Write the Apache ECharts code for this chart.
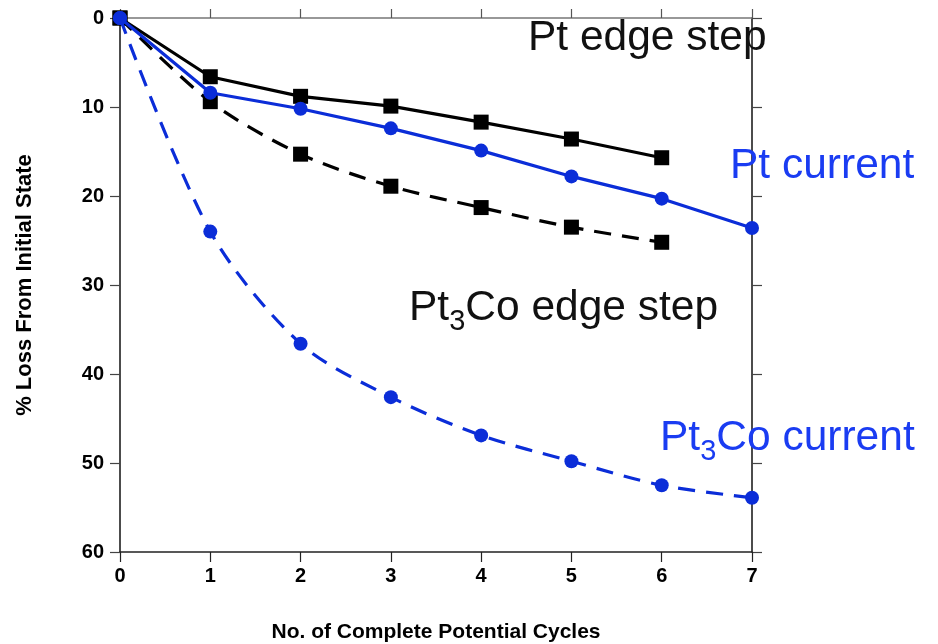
<!DOCTYPE html>
<html>
<head>
<meta charset="utf-8">
<script src="https://cdn.jsdelivr.net/npm/echarts@6/dist/echarts.min.js"></script>
<style>
  html, body { margin: 0; padding: 0; background: #ffffff; }
  #chart { width: 938px; height: 644px; }
</style>
</head>
<body>
<div id="chart"></div>
<script>
// Number of complete potential cycles
const cycles = [0, 1, 2, 3, 4, 5, 6, 7];
// % loss from initial state for each measurement
const ptEdgeStep    = [0, 6.6, 8.8, 9.9, 11.7, 13.6, 15.7];
const ptCurrent     = [0, 8.4, 10.2, 12.4, 14.9, 17.8, 20.3, 23.6];
const pt3CoEdgeStep = [0, 9.4, 15.3, 18.9, 21.3, 23.5, 25.2];
const pt3CoCurrent  = [0, 24.0, 36.6, 42.6, 46.9, 49.8, 52.5, 53.9];
// Axis ranges
const xRange = { min: 0, max: 7, step: 1 };
const yRange = { min: 0, max: 60, step: 10 };

const FONT = '"Liberation Sans", Arial, Helvetica, sans-serif';
const BLACK = '#000000';
const BLUE = '#0b2dd8';
const BLUE_TEXT = '#1a3cf2';

function pairs(values) {
  return values.map((v, i) => [cycles[i], v]);
}

const annotationRich = {
  m: { fontSize: 42.5, lineHeight: 56, verticalAlign: 'middle', fontFamily: FONT },
  s: { fontSize: 29, lineHeight: 28, verticalAlign: 'bottom', fontFamily: FONT }
};
function annotation(text, color, left, top) {
  const rich = {
    m: Object.assign({ color }, annotationRich.m),
    s: Object.assign({ color }, annotationRich.s)
  };
  return {
    text, left, top, padding: 0,
    textStyle: { rich, color, fontFamily: FONT, fontWeight: 'normal' }
  };
}

const chart = echarts.init(document.getElementById('chart'), null, { renderer: 'canvas' });

const tickLabel = { color: BLACK, fontFamily: FONT, fontWeight: 'bold', fontSize: 20 };

chart.setOption({
  animation: false,
  backgroundColor: '#ffffff',
  title: [
    annotation('{m|Pt edge step}', '#111111', 528, 10),
    annotation('{m|Pt current}', BLUE_TEXT, 730, 138),
    annotation('{m|Pt}{s|3}{m|Co edge step}', '#111111', 409, 280),
    annotation('{m|Pt}{s|3}{m|Co current}', BLUE_TEXT, 660, 410)
  ],
  grid: { left: 120, top: 18, right: 186, bottom: 92, containLabel: false, outerBoundsMode: 'none' },
  xAxis: [
    {
      type: 'value', position: 'bottom',
      min: xRange.min, max: xRange.max, interval: xRange.step,
      name: 'No. of Complete Potential Cycles',
      nameLocation: 'middle', nameGap: 70,
      nameTextStyle: { color: BLACK, fontFamily: FONT, fontWeight: 'bold', fontSize: 21 },
      axisLine: { show: true, onZero: false, lineStyle: { color: '#222222', width: 1.5 } },
      axisTick: { show: true, inside: false, length: 10, lineStyle: { color: '#222222', width: 1.2 } },
      axisLabel: Object.assign({ margin: 14 }, tickLabel),
      splitLine: { show: false }
    },
    {
      type: 'value', position: 'top',
      min: xRange.min, max: xRange.max, interval: xRange.step,
      axisLine: { show: true, onZero: false, lineStyle: { color: '#777777', width: 1.5 } },
      axisTick: { show: true, inside: false, length: 9, lineStyle: { color: '#555555', width: 1.2 } },
      axisLabel: { show: false },
      splitLine: { show: false }
    }
  ],
  yAxis: [
    {
      type: 'value', position: 'left', inverse: true,
      min: yRange.min, max: yRange.max, interval: yRange.step,
      name: '% Loss From Initial State',
      nameLocation: 'middle', nameGap: 84, nameRotate: 90,
      nameTextStyle: { color: BLACK, fontFamily: FONT, fontWeight: 'bold', fontSize: 22 },
      axisLine: { show: true, onZero: false, lineStyle: { color: '#111111', width: 1.5 } },
      axisTick: { show: true, inside: false, length: 10, lineStyle: { color: '#444444', width: 1.2 } },
      axisLabel: Object.assign({ margin: 16 }, tickLabel),
      splitLine: { show: false }
    },
    {
      type: 'value', position: 'right', inverse: true,
      min: yRange.min, max: yRange.max, interval: yRange.step,
      axisLine: { show: true, onZero: false, lineStyle: { color: '#111111', width: 1.5 } },
      axisTick: { show: true, inside: false, length: 10, lineStyle: { color: '#444444', width: 1.2 } },
      axisLabel: { show: false },
      splitLine: { show: false }
    }
  ],
  series: [
    {
      name: 'Pt3Co edge step', type: 'line', xAxisIndex: 0, yAxisIndex: 0,
      data: pairs(pt3CoEdgeStep), smooth: 0.3,
      symbol: 'rect', symbolSize: 15, showAllSymbol: true,
      lineStyle: { color: BLACK, width: 3.2, type: [17, 11] },
      itemStyle: { color: BLACK }, z: 2
    },
    {
      name: 'Pt edge step', type: 'line', xAxisIndex: 0, yAxisIndex: 0,
      data: pairs(ptEdgeStep),
      symbol: 'rect', symbolSize: 15, showAllSymbol: true,
      lineStyle: { color: BLACK, width: 3.2 },
      itemStyle: { color: BLACK }, z: 3
    },
    {
      name: 'Pt3Co current', type: 'line', xAxisIndex: 0, yAxisIndex: 0,
      data: pairs(pt3CoCurrent), smooth: 0.3,
      symbol: 'circle', symbolSize: 14, showAllSymbol: true,
      lineStyle: { color: BLUE, width: 3.2, type: [17, 11] },
      itemStyle: { color: BLUE }, z: 4
    },
    {
      name: 'Pt current', type: 'line', xAxisIndex: 0, yAxisIndex: 0,
      data: pairs(ptCurrent),
      symbol: 'circle', symbolSize: 14, showAllSymbol: true,
      lineStyle: { color: BLUE, width: 3.2 },
      itemStyle: { color: BLUE }, z: 5
    }
  ]
});
</script>
</body>
</html>
